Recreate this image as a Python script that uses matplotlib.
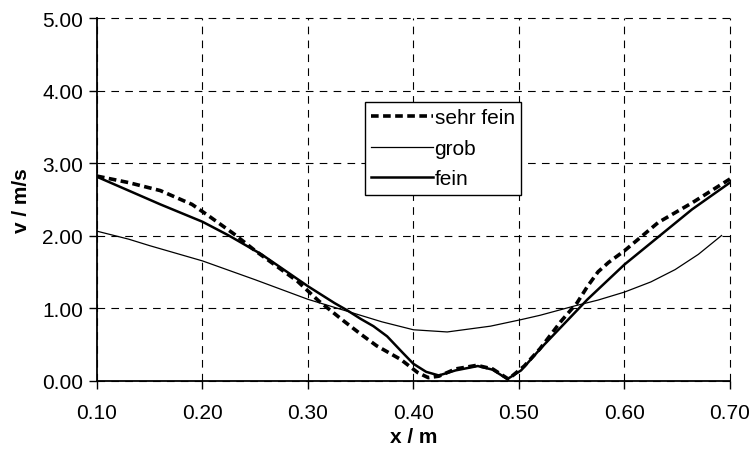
import matplotlib
matplotlib.use("Agg")
import matplotlib.pyplot as plt

plt.rcParams["font.family"] = ["Liberation Sans", "DejaVu Sans"]
plt.rcParams["lines.scale_dashes"] = False

# velocity profiles v(x) for the three grid resolutions
x_sehr_fein = [0.10, 0.13, 0.16, 0.19, 0.205, 0.23, 0.25, 0.29, 0.31, 0.334,
               0.35, 0.365, 0.388, 0.404, 0.414, 0.424, 0.44, 0.46, 0.475,
               0.49, 0.505, 0.52, 0.54, 0.555, 0.565, 0.575, 0.585, 0.60,
               0.632, 0.664, 0.70]
v_sehr_fein = [2.82, 2.73, 2.62, 2.43, 2.28, 2.02, 1.79, 1.37, 1.10, 0.82,
               0.64, 0.48, 0.29, 0.11, 0.04, 0.06, 0.16, 0.21, 0.16,
               0.02, 0.20, 0.44, 0.82, 1.07, 1.30, 1.50, 1.63, 1.79,
               2.18, 2.45, 2.78]

x_grob = [0.10, 0.13, 0.15, 0.20, 0.25, 0.30, 0.343, 0.37, 0.40, 0.432,
          0.473, 0.502, 0.52, 0.553, 0.575, 0.60, 0.625, 0.648, 0.67, 0.692]
v_grob = [2.06, 1.95, 1.86, 1.65, 1.39, 1.12, 0.93, 0.81, 0.70, 0.67,
          0.75, 0.84, 0.90, 1.03, 1.11, 1.22, 1.36, 1.53, 1.74, 2.00]

x_fein = [0.10, 0.13, 0.16, 0.20, 0.225, 0.256, 0.30, 0.325, 0.337, 0.35,
          0.362, 0.375, 0.39, 0.40, 0.412, 0.424, 0.44, 0.461, 0.475, 0.489,
          0.502, 0.521, 0.565, 0.60, 0.664, 0.70]
v_fein = [2.81, 2.62, 2.43, 2.19, 2.00, 1.74, 1.30, 1.07, 0.97, 0.85,
          0.75, 0.61, 0.38, 0.23, 0.12, 0.07, 0.14, 0.20, 0.15, 0.02,
          0.14, 0.45, 1.12, 1.60, 2.36, 2.73]

x_ticks = [0.10, 0.20, 0.30, 0.40, 0.50, 0.60, 0.70]
y_ticks = [0.0, 1.0, 2.0, 3.0, 4.0, 5.0]

fig = plt.figure(figsize=(7.5, 4.56), dpi=100)
ax = fig.add_axes([0.1293, 0.1633, 0.8440, 0.7950])

ax.plot(x_sehr_fein, v_sehr_fein, color="black", lw=2.6,
        linestyle=(0, (5.5, 3.2)), label="sehr fein", zorder=4)
ax.plot(x_grob, v_grob, color="black", lw=0.9, label="grob", zorder=3)
ax.plot(x_fein, v_fein, color="black", lw=1.8, label="fein", zorder=3)

ax.set_xlim(0.10, 0.70)
ax.set_ylim(0.0, 5.0)
ax.set_xticks(x_ticks)
ax.set_yticks(y_ticks)
ax.set_xticklabels([f"{t:.2f}" for t in x_ticks], fontsize=15)
ax.set_yticklabels([f"{t:.2f}" for t in y_ticks], fontsize=15)
ax.tick_params(axis="both", direction="out", length=6, width=1.0,
               color="black", labelcolor="black")
ax.tick_params(axis="x", pad=10)
ax.tick_params(axis="y", pad=4)

ax.grid(True, color="black", lw=0.8, linestyle=(0, (5.5, 4.5)))
for g in ax.get_xgridlines() + ax.get_ygridlines():
    g.set_clip_on(False)

for side in ("top", "right"):
    ax.spines[side].set_visible(False)
for side in ("left", "bottom"):
    ax.spines[side].set_linewidth(1.3)
    ax.spines[side].set_color("black")

ax.set_xlabel("x / m", fontsize=15, fontweight="bold", labelpad=4)
ax.set_ylabel("v / m/s", fontsize=15, fontweight="bold", labelpad=8)

leg = ax.legend(loc="upper left", bbox_to_anchor=(0.423, 0.768),
                fontsize=15, frameon=True, fancybox=False, framealpha=1.0,
                edgecolor="black", handlelength=3.0, handletextpad=0.05,
                labelspacing=0.55, borderpad=0.3, borderaxespad=0.0)
leg.get_frame().set_linewidth(1.0)
leg.set_zorder(10)

fig.savefig("out.png", dpi=100)
